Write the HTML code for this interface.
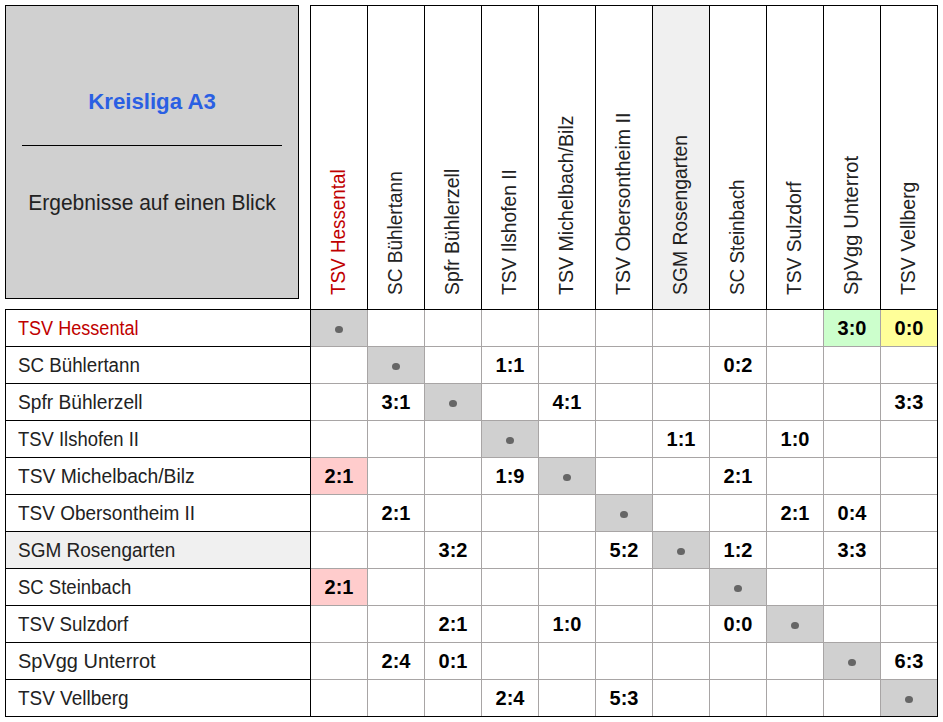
<!DOCTYPE html>
<html><head><meta charset="utf-8"><title>Kreisliga A3</title>
<style>
html,body{margin:0;padding:0;background:#fff;}
body{width:943px;height:722px;position:relative;overflow:hidden;font-family:"Liberation Sans",sans-serif;}
body>div{position:absolute;}
.t{white-space:nowrap;}
</style></head><body>
<div style="left:5px;top:5px;width:294px;height:294px;background:#000"></div>
<div style="left:6px;top:6px;width:292px;height:292px;background:#d0d0d0"></div>
<div style="left:652px;top:5px;width:57px;height:304px;background:#f0f0f0"></div>
<div style="left:5px;top:531px;width:305px;height:37px;background:#f0f0f0"></div>
<div style="left:310px;top:309px;width:57px;height:37px;background:#d0d0d0"></div>
<div style="left:367px;top:346px;width:57px;height:37px;background:#d0d0d0"></div>
<div style="left:424px;top:383px;width:57px;height:37px;background:#d0d0d0"></div>
<div style="left:481px;top:420px;width:57px;height:37px;background:#d0d0d0"></div>
<div style="left:538px;top:457px;width:57px;height:37px;background:#d0d0d0"></div>
<div style="left:595px;top:494px;width:57px;height:37px;background:#d0d0d0"></div>
<div style="left:652px;top:531px;width:57px;height:37px;background:#d0d0d0"></div>
<div style="left:709px;top:568px;width:57px;height:37px;background:#d0d0d0"></div>
<div style="left:766px;top:605px;width:57px;height:37px;background:#d0d0d0"></div>
<div style="left:823px;top:642px;width:57px;height:37px;background:#d0d0d0"></div>
<div style="left:880px;top:679px;width:57px;height:37px;background:#d0d0d0"></div>
<div style="left:823px;top:309px;width:57px;height:37px;background:#ccffcc"></div>
<div style="left:880px;top:309px;width:57px;height:37px;background:#ffff99"></div>
<div style="left:310px;top:457px;width:57px;height:37px;background:#ffcccc"></div>
<div style="left:310px;top:568px;width:57px;height:37px;background:#ffcccc"></div>
<div style="left:310px;top:346px;width:627px;height:1px;background:#a8a5a5"></div>
<div style="left:310px;top:383px;width:627px;height:1px;background:#a8a5a5"></div>
<div style="left:310px;top:420px;width:627px;height:1px;background:#a8a5a5"></div>
<div style="left:310px;top:457px;width:627px;height:1px;background:#a8a5a5"></div>
<div style="left:310px;top:494px;width:627px;height:1px;background:#a8a5a5"></div>
<div style="left:310px;top:531px;width:627px;height:1px;background:#a8a5a5"></div>
<div style="left:310px;top:568px;width:627px;height:1px;background:#a8a5a5"></div>
<div style="left:310px;top:605px;width:627px;height:1px;background:#a8a5a5"></div>
<div style="left:310px;top:642px;width:627px;height:1px;background:#a8a5a5"></div>
<div style="left:310px;top:679px;width:627px;height:1px;background:#a8a5a5"></div>
<div style="left:367px;top:309px;width:1px;height:407px;background:#a8a5a5"></div>
<div style="left:424px;top:309px;width:1px;height:407px;background:#a8a5a5"></div>
<div style="left:481px;top:309px;width:1px;height:407px;background:#a8a5a5"></div>
<div style="left:538px;top:309px;width:1px;height:407px;background:#a8a5a5"></div>
<div style="left:595px;top:309px;width:1px;height:407px;background:#a8a5a5"></div>
<div style="left:652px;top:309px;width:1px;height:407px;background:#a8a5a5"></div>
<div style="left:709px;top:309px;width:1px;height:407px;background:#a8a5a5"></div>
<div style="left:766px;top:309px;width:1px;height:407px;background:#a8a5a5"></div>
<div style="left:823px;top:309px;width:1px;height:407px;background:#a8a5a5"></div>
<div style="left:880px;top:309px;width:1px;height:407px;background:#a8a5a5"></div>
<div style="left:310px;top:5px;width:1px;height:304px;background:#000"></div>
<div style="left:367px;top:5px;width:1px;height:304px;background:#000"></div>
<div style="left:424px;top:5px;width:1px;height:304px;background:#000"></div>
<div style="left:481px;top:5px;width:1px;height:304px;background:#000"></div>
<div style="left:538px;top:5px;width:1px;height:304px;background:#000"></div>
<div style="left:595px;top:5px;width:1px;height:304px;background:#000"></div>
<div style="left:652px;top:5px;width:1px;height:304px;background:#000"></div>
<div style="left:709px;top:5px;width:1px;height:304px;background:#000"></div>
<div style="left:766px;top:5px;width:1px;height:304px;background:#000"></div>
<div style="left:823px;top:5px;width:1px;height:304px;background:#000"></div>
<div style="left:880px;top:5px;width:1px;height:304px;background:#000"></div>
<div style="left:937px;top:5px;width:1px;height:304px;background:#000"></div>
<div style="left:310px;top:5px;width:628px;height:1px;background:#000"></div>
<div style="left:5px;top:309px;width:933px;height:1px;background:#000"></div>
<div style="left:5px;top:309px;width:1px;height:407px;background:#000"></div>
<div style="left:5px;top:346px;width:305px;height:1px;background:#000"></div>
<div style="left:5px;top:383px;width:305px;height:1px;background:#000"></div>
<div style="left:5px;top:420px;width:305px;height:1px;background:#000"></div>
<div style="left:5px;top:457px;width:305px;height:1px;background:#000"></div>
<div style="left:5px;top:494px;width:305px;height:1px;background:#000"></div>
<div style="left:5px;top:531px;width:305px;height:1px;background:#000"></div>
<div style="left:5px;top:568px;width:305px;height:1px;background:#000"></div>
<div style="left:5px;top:605px;width:305px;height:1px;background:#000"></div>
<div style="left:5px;top:642px;width:305px;height:1px;background:#000"></div>
<div style="left:5px;top:679px;width:305px;height:1px;background:#000"></div>
<div style="left:310px;top:309px;width:1px;height:407px;background:#000"></div>
<div style="left:937px;top:309px;width:1px;height:408px;background:#000"></div>
<div style="left:5px;top:716px;width:933px;height:1px;background:#000"></div>
<div class="t" style="left:6px;width:292px;top:102px;font-size:22.5px;font-weight:bold;color:#2a5fe3;text-align:center;line-height:0;transform:scaleX(0.9874)">Kreisliga A3</div>
<div style="left:22px;top:145px;width:260px;height:1px;background:#000"></div>
<div class="t" style="left:6px;width:292px;top:202.5px;font-size:22px;color:#222222;text-align:center;line-height:0;transform:scaleX(0.9544)">Ergebnisse auf einen Blick</div>
<div class="t" style="left:18px;top:327.5px;font-size:19.5px;color:#c00000;line-height:0;transform-origin:0 0;transform:scaleX(0.9271)">TSV Hessental</div>
<div class="t" style="left:18px;top:364.5px;font-size:19.5px;color:#222222;line-height:0;transform-origin:0 0;transform:scaleX(0.9611)">SC Bühlertann</div>
<div class="t" style="left:18px;top:401.5px;font-size:19.5px;color:#222222;line-height:0;transform-origin:0 0;transform:scaleX(0.9825)">Spfr Bühlerzell</div>
<div class="t" style="left:18px;top:438.5px;font-size:19.5px;color:#222222;line-height:0;transform-origin:0 0;transform:scaleX(0.9457)">TSV Ilshofen II</div>
<div class="t" style="left:18px;top:475.5px;font-size:19.5px;color:#222222;line-height:0;transform-origin:0 0;transform:scaleX(0.9876)">TSV Michelbach/Bilz</div>
<div class="t" style="left:18px;top:512.5px;font-size:19.5px;color:#222222;line-height:0;transform-origin:0 0;transform:scaleX(0.9729)">TSV Obersontheim II</div>
<div class="t" style="left:18px;top:549.5px;font-size:19.5px;color:#222222;line-height:0;transform-origin:0 0;transform:scaleX(0.9739)">SGM Rosengarten</div>
<div class="t" style="left:18px;top:586.5px;font-size:19.5px;color:#222222;line-height:0;transform-origin:0 0;transform:scaleX(0.9496)">SC Steinbach</div>
<div class="t" style="left:18px;top:623.5px;font-size:19.5px;color:#222222;line-height:0;transform-origin:0 0;transform:scaleX(0.9595)">TSV Sulzdorf</div>
<div class="t" style="left:18px;top:660.5px;font-size:19.5px;color:#222222;line-height:0;transform-origin:0 0;transform:scaleX(1.0237)">SpVgg Unterrot</div>
<div class="t" style="left:18px;top:697.5px;font-size:19.5px;color:#222222;line-height:0;transform-origin:0 0;transform:scaleX(0.9717)">TSV Vellberg</div>
<div class="t" style="left:337.5px;top:295px;font-size:19.5px;color:#c00000;line-height:0;transform-origin:0 0;transform:rotate(-90deg) scaleX(0.9667)">TSV Hessental</div>
<div class="t" style="left:394.5px;top:295px;font-size:19.5px;color:#222222;line-height:0;transform-origin:0 0;transform:rotate(-90deg) scaleX(0.9754)">SC Bühlertann</div>
<div class="t" style="left:451.5px;top:295px;font-size:19.5px;color:#222222;line-height:0;transform-origin:0 0;transform:rotate(-90deg) scaleX(0.9952)">Spfr Bühlerzell</div>
<div class="t" style="left:508.5px;top:295px;font-size:19.5px;color:#222222;line-height:0;transform-origin:0 0;transform:rotate(-90deg) scaleX(0.9841)">TSV Ilshofen II</div>
<div class="t" style="left:565.5px;top:295px;font-size:19.5px;color:#222222;line-height:0;transform-origin:0 0;transform:rotate(-90deg) scaleX(1.0045)">TSV Michelbach/Bilz</div>
<div class="t" style="left:622.5px;top:295px;font-size:19.5px;color:#222222;line-height:0;transform-origin:0 0;transform:rotate(-90deg) scaleX(1.0017)">TSV Obersontheim II</div>
<div class="t" style="left:679.5px;top:295px;font-size:19.5px;color:#222222;line-height:0;transform-origin:0 0;transform:rotate(-90deg) scaleX(0.9913)">SGM Rosengarten</div>
<div class="t" style="left:736.5px;top:295px;font-size:19.5px;color:#222222;line-height:0;transform-origin:0 0;transform:rotate(-90deg) scaleX(0.9695)">SC Steinbach</div>
<div class="t" style="left:793.5px;top:295px;font-size:19.5px;color:#222222;line-height:0;transform-origin:0 0;transform:rotate(-90deg) scaleX(0.9870)">TSV Sulzdorf</div>
<div class="t" style="left:850.5px;top:295px;font-size:19.5px;color:#222222;line-height:0;transform-origin:0 0;transform:rotate(-90deg) scaleX(1.0341)">SpVgg Unterrot</div>
<div class="t" style="left:907.5px;top:295px;font-size:19.5px;color:#222222;line-height:0;transform-origin:0 0;transform:rotate(-90deg) scaleX(0.9965)">TSV Vellberg</div>
<div class="t" style="left:824px;width:56px;top:327.5px;font-size:20px;font-weight:bold;color:#000;text-align:center;line-height:0">3:0</div>
<div class="t" style="left:881px;width:56px;top:327.5px;font-size:20px;font-weight:bold;color:#000;text-align:center;line-height:0">0:0</div>
<div class="t" style="left:482px;width:56px;top:364.5px;font-size:20px;font-weight:bold;color:#000;text-align:center;line-height:0">1:1</div>
<div class="t" style="left:710px;width:56px;top:364.5px;font-size:20px;font-weight:bold;color:#000;text-align:center;line-height:0">0:2</div>
<div class="t" style="left:368px;width:56px;top:401.5px;font-size:20px;font-weight:bold;color:#000;text-align:center;line-height:0">3:1</div>
<div class="t" style="left:539px;width:56px;top:401.5px;font-size:20px;font-weight:bold;color:#000;text-align:center;line-height:0">4:1</div>
<div class="t" style="left:881px;width:56px;top:401.5px;font-size:20px;font-weight:bold;color:#000;text-align:center;line-height:0">3:3</div>
<div class="t" style="left:653px;width:56px;top:438.5px;font-size:20px;font-weight:bold;color:#000;text-align:center;line-height:0">1:1</div>
<div class="t" style="left:767px;width:56px;top:438.5px;font-size:20px;font-weight:bold;color:#000;text-align:center;line-height:0">1:0</div>
<div class="t" style="left:311px;width:56px;top:475.5px;font-size:20px;font-weight:bold;color:#000;text-align:center;line-height:0">2:1</div>
<div class="t" style="left:482px;width:56px;top:475.5px;font-size:20px;font-weight:bold;color:#000;text-align:center;line-height:0">1:9</div>
<div class="t" style="left:710px;width:56px;top:475.5px;font-size:20px;font-weight:bold;color:#000;text-align:center;line-height:0">2:1</div>
<div class="t" style="left:368px;width:56px;top:512.5px;font-size:20px;font-weight:bold;color:#000;text-align:center;line-height:0">2:1</div>
<div class="t" style="left:767px;width:56px;top:512.5px;font-size:20px;font-weight:bold;color:#000;text-align:center;line-height:0">2:1</div>
<div class="t" style="left:824px;width:56px;top:512.5px;font-size:20px;font-weight:bold;color:#000;text-align:center;line-height:0">0:4</div>
<div class="t" style="left:425px;width:56px;top:549.5px;font-size:20px;font-weight:bold;color:#000;text-align:center;line-height:0">3:2</div>
<div class="t" style="left:596px;width:56px;top:549.5px;font-size:20px;font-weight:bold;color:#000;text-align:center;line-height:0">5:2</div>
<div class="t" style="left:710px;width:56px;top:549.5px;font-size:20px;font-weight:bold;color:#000;text-align:center;line-height:0">1:2</div>
<div class="t" style="left:824px;width:56px;top:549.5px;font-size:20px;font-weight:bold;color:#000;text-align:center;line-height:0">3:3</div>
<div class="t" style="left:311px;width:56px;top:586.5px;font-size:20px;font-weight:bold;color:#000;text-align:center;line-height:0">2:1</div>
<div class="t" style="left:425px;width:56px;top:623.5px;font-size:20px;font-weight:bold;color:#000;text-align:center;line-height:0">2:1</div>
<div class="t" style="left:539px;width:56px;top:623.5px;font-size:20px;font-weight:bold;color:#000;text-align:center;line-height:0">1:0</div>
<div class="t" style="left:710px;width:56px;top:623.5px;font-size:20px;font-weight:bold;color:#000;text-align:center;line-height:0">0:0</div>
<div class="t" style="left:368px;width:56px;top:660.5px;font-size:20px;font-weight:bold;color:#000;text-align:center;line-height:0">2:4</div>
<div class="t" style="left:425px;width:56px;top:660.5px;font-size:20px;font-weight:bold;color:#000;text-align:center;line-height:0">0:1</div>
<div class="t" style="left:881px;width:56px;top:660.5px;font-size:20px;font-weight:bold;color:#000;text-align:center;line-height:0">6:3</div>
<div class="t" style="left:482px;width:56px;top:697.5px;font-size:20px;font-weight:bold;color:#000;text-align:center;line-height:0">2:4</div>
<div class="t" style="left:596px;width:56px;top:697.5px;font-size:20px;font-weight:bold;color:#000;text-align:center;line-height:0">5:3</div>
<div style="left:335px;top:325.5px;width:8px;height:7.5px;border-radius:50%;background:#666666"></div>
<div style="left:392px;top:362.5px;width:8px;height:7.5px;border-radius:50%;background:#666666"></div>
<div style="left:449px;top:399.5px;width:8px;height:7.5px;border-radius:50%;background:#666666"></div>
<div style="left:506px;top:436.5px;width:8px;height:7.5px;border-radius:50%;background:#666666"></div>
<div style="left:563px;top:473.5px;width:8px;height:7.5px;border-radius:50%;background:#666666"></div>
<div style="left:620px;top:510.5px;width:8px;height:7.5px;border-radius:50%;background:#666666"></div>
<div style="left:677px;top:547.5px;width:8px;height:7.5px;border-radius:50%;background:#666666"></div>
<div style="left:734px;top:584.5px;width:8px;height:7.5px;border-radius:50%;background:#666666"></div>
<div style="left:791px;top:621.5px;width:8px;height:7.5px;border-radius:50%;background:#666666"></div>
<div style="left:848px;top:658.5px;width:8px;height:7.5px;border-radius:50%;background:#666666"></div>
<div style="left:905px;top:695.5px;width:8px;height:7.5px;border-radius:50%;background:#666666"></div>
</body></html>
